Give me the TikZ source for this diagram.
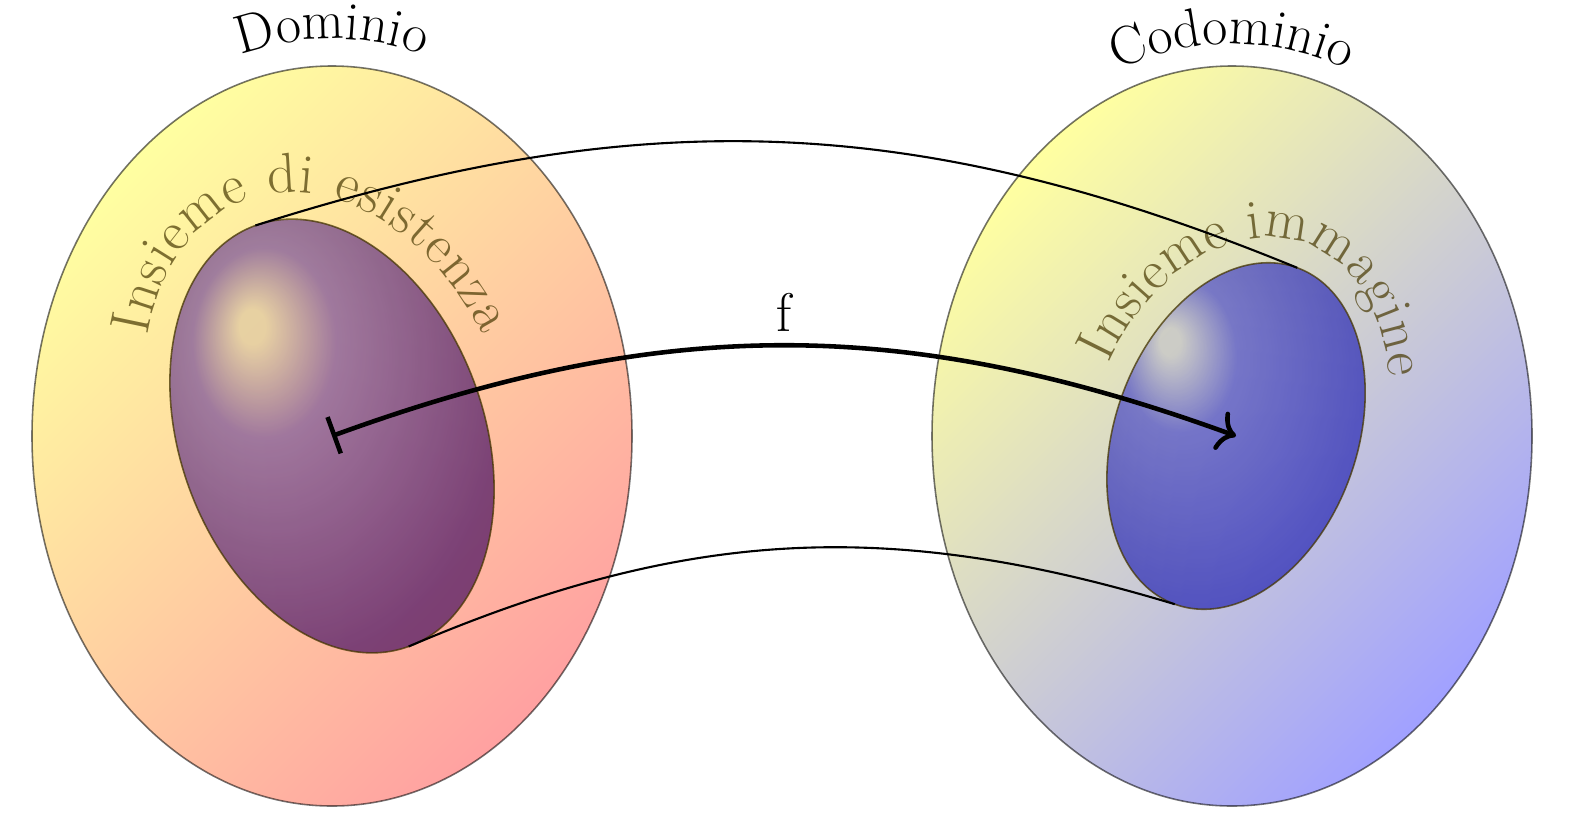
\documentclass[tikz,border=0pt]{standalone}
\usepackage{fontspec}
\usetikzlibrary{decorations.text,arrows.meta,calc}
\pgfdeclareradialshading{ballL}{\pgfpoint{-12.7bp}{13.1bp}}{rgb(0bp)=(0.87,0.79,0.64); rgb(2bp)=(0.87,0.79,0.64); rgb(11bp)=(0.47,0.31,0.61); rgb(32bp)=(0.27,0.06,0.39); rgb(62bp)=(0.28,0,0.17)}
\pgfdeclareradialshading{ballR}{\pgfpoint{-13.2bp}{14.1bp}}{rgb(0bp)=(0.77,0.77,0.79); rgb(2bp)=(0.77,0.77,0.79); rgb(11bp)=(0.30,0.30,0.78); rgb(32bp)=(0.14,0.14,0.70); rgb(62bp)=(0.04,0.04,0.46)}
\definecolor{inktext}{RGB}{70,55,0}
\tikzset{
  outerline/.style={draw=black, draw opacity=0.55, line width=0.45pt},
  innerline/.style={draw=inktext, draw opacity=0.75, line width=0.45pt},
  link/.style={line width=0.6pt},
  labelfont/.style={font=\fontsize{15.5}{19}\selectfont},
}
\begin{document}
\begin{tikzpicture}
\useasboundingbox (0,0) rectangle (15.74,8.39);
\coordinate (Lo) at (3.32,4.03);
\coordinate (Ro) at (12.32,4.03);
\coordinate (Li) at (3.32,4.03);
\coordinate (Ri) at (12.36,4.03);
% outer sets
\shade[top color=yellow, bottom color=red, shading angle=45, fill opacity=0.37] (Lo) ellipse [x radius=3, y radius=3.7];
\draw[outerline] (Lo) ellipse [x radius=3, y radius=3.7];
\shade[top color=yellow, bottom color=blue, shading angle=45, fill opacity=0.37] (Ro) ellipse [x radius=3, y radius=3.7];
\draw[outerline] (Ro) ellipse [x radius=3, y radius=3.7];
% inner sets
\begin{scope}
  \clip[rotate around={20:(Li)}] (Li) ellipse [x radius=1.52, y radius=2.24];
  \shade[shading=ballL, fill opacity=0.7] ($(Li)+(-1.625,-2.16)$) rectangle ($(Li)+(1.625,2.16)$);
\end{scope}
\draw[innerline, rotate around={20:(Li)}] (Li) ellipse [x radius=1.52, y radius=2.24];
\begin{scope}
  \clip[rotate around={-20:(Ri)}] (Ri) ellipse [x radius=1.21, y radius=1.79];
  \shade[shading=ballR, fill opacity=0.7] ($(Ri)+(-1.295,-1.73)$) rectangle ($(Ri)+(1.295,1.73)$);
\end{scope}
\draw[innerline, rotate around={-20:(Ri)}] (Ri) ellipse [x radius=1.21, y radius=1.79];
% labels of outer sets
\path[decorate, decoration={text along path, text align=center, text={|\fontsize{15.5}{19}\selectfont|Dominio}}]
  (Lo) ++(150:3.27 and 3.97) arc[start angle=150, end angle=30, x radius=3.27, y radius=3.97];
\path[decorate, decoration={text along path, text align=center, text={|\fontsize{15.5}{19}\selectfont|Codominio}}]
  (Ro) ++(150:3.22 and 3.92) arc[start angle=150, end angle=30, x radius=3.22, y radius=3.92];
% labels of inner sets
\begin{scope}[opacity=0.7]
\path[decorate, decoration={text along path, text align=fit to path, text color=inktext, text={|\fontsize{16}{19}\selectfont|Insieme di esistenza}}]
  plot[domain=0:131, samples=100, variable=\s]
  ({3.32 + 1.79*cos(141-\s)*cos(20) - 2.51*sin(141-\s)*sin(20)}, {4.03 + 1.79*cos(141-\s)*sin(20) + 2.51*sin(141-\s)*cos(20)});
\path[decorate, decoration={text along path, text align=fit to path, text color=inktext, text={|\fontsize{16}{19}\selectfont|Insieme immagine}}]
  plot[domain=0:141, samples=100, variable=\s]
  ({12.36 + 1.46*cos(173-\s)*cos(20) + 2.04*sin(173-\s)*sin(20)}, {4.03 - 1.46*cos(173-\s)*sin(20) + 2.04*sin(173-\s)*cos(20)});
\end{scope}
% connectors
\coordinate (LT) at ($(Li)+(110:2.24)$);
\coordinate (LB) at ($(Li)+(-70:2.24)$);
\coordinate (RT) at ($(Ri)+(70:1.79)$);
\coordinate (RB) at ($(Ri)+(250:1.79)$);
\draw[link] (LT) to[bend left=20] (RT);
\draw[link] (LB) to[bend left=20] (RB);
\draw[line width=1.3pt, {Bar[width=11pt]}-{Computer Modern Rightarrow[length=5pt,width=11.5pt]}]
  (Li) to[bend left=20] node[midway, above, labelfont] (f) {f} (Ri);
\end{tikzpicture}
\end{document}
